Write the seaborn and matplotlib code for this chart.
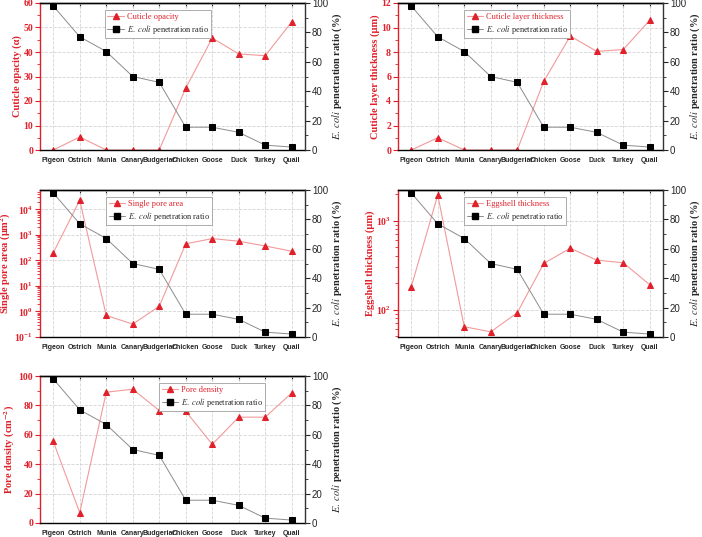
import matplotlib
matplotlib.use('Agg')
import matplotlib.pyplot as plt
import matplotlib.ticker as mticker
from matplotlib.lines import Line2D
import seaborn as sns
import numpy as np

sns.set_style('white')
plt.rcParams['font.family'] = ['Liberation Serif', 'DejaVu Serif']
plt.rcParams['mathtext.fontset'] = 'stix'

# Data
birds = ['Pigeon', 'Ostrich', 'Munia', 'Canary', 'Budgeriar',
         'Chicken', 'Goose', 'Duck', 'Turkey', 'Quail']
penetration = [98, 77, 67, 50, 46, 15.5, 15.5, 12, 3.3, 2]
cuticle_opacity = [0, 5.3, 0, 0, 0, 25.3, 45.7, 39.2, 38.5, 52.3]
cuticle_thickness = [0, 1.0, 0, 0, 0, 5.6, 9.3, 8.05, 8.2, 10.6]
pore_area = [200, 23000, 0.7, 0.32, 1.6, 450, 720, 570, 370, 230]
shell_thickness = [180, 1950, 64, 56, 92, 330, 490, 360, 336, 190]
pore_density = [55.5, 7, 89, 91, 76.5, 76, 53.5, 72, 72, 88.5]

RED = '#e0202a'
RED_LINE = '#f29a9a'
GREY_LINE = '#8c8c8c'

W, H = 702, 537
panels = [
    dict(vals=cuticle_opacity, label='Cuticle opacity (α)', leg='Cuticle opacity',
         eleg=r'$\mathit{E.\ coli}$ penetration ratio', ylim=(0, 60), step=10, log=False,
         box=(40, 3, 305, 150), lx=0.245),
    dict(vals=cuticle_thickness, label='Cuticle layer thickness (μm)', leg='Cuticle layer thickness',
         eleg=r'$\mathit{E.\ coli}$ penetration ratio', ylim=(0, 12), step=2, log=False,
         box=(398, 3, 663, 150), lx=0.25),
    dict(vals=pore_area, label=r'Single pore area (μm$^\mathbf{2}$)', leg='Single pore area',
         eleg=r'$\mathit{E.\ coli}$ penetration ratio', ylim=(0.1, 5.8e4), step=None, log=True,
         box=(40, 190, 305, 337), lx=0.25),
    dict(vals=shell_thickness, label='Eggshell thickness (μm)', leg='Eggshell thickness',
         eleg=r'$\mathit{E.\ coli}$ penetratio ratio', ylim=(49, 2220), step=None, log=True,
         box=(398, 190, 663, 337), lx=0.25),
    dict(vals=pore_density, label=r'Pore density (cm$^{\mathbf{-2}}$)', leg='Pore density',
         eleg=r'$\mathit{E.\ coli}$ penetration ratio', ylim=(0, 100), step=20, log=False,
         box=(40, 376, 305, 523), lx=0.45),
]

fig = plt.figure(figsize=(W / 100, H / 100), dpi=100)

for p in panels:
    l, t, r, b = p['box']
    ax = fig.add_axes([l / W, 1 - b / H, (r - l) / W, (b - t) / H])
    sns.lineplot(x=birds, y=p['vals'], ax=ax, sort=False, color=RED_LINE, lw=0.8,
                 marker='^', markersize=5, markerfacecolor=RED, markeredgecolor=RED)
    if p['log']:
        ax.set_yscale('log')
    ax.set_ylim(*p['ylim'])
    ax.set_xlim(-0.5, 9.5)
    if not p['log']:
        ax.yaxis.set_major_locator(mticker.MultipleLocator(p['step']))
        ax.yaxis.set_minor_locator(mticker.MultipleLocator(p['step'] / 2))
    ax.set_xticks(range(len(birds)))
    ax.set_xticklabels(birds)
    ax.xaxis.set_minor_locator(mticker.FixedLocator(np.arange(-0.5, 10, 1)))
    ax.grid(True, ls='--', color='#d4d4d4', lw=0.6)
    ax.set_axisbelow(True)

    ax.set_ylabel(p['label'], color=RED, fontsize=7.5, fontweight='bold', labelpad=1)
    ax.set_xlabel('')
    ax.tick_params(axis='y', which='major', colors=RED, direction='out', length=3.5, width=0.8,
                   labelsize=7, pad=1.5)
    ax.tick_params(axis='y', which='minor', colors=RED, direction='out', length=2, width=0.6)
    for lab in ax.get_yticklabels():
        lab.set_fontweight('bold')
    ax.tick_params(axis='x', which='major', direction='out', length=3, width=0.8, pad=2,
                   labelsize=5)
    ax.tick_params(axis='x', which='minor', direction='out', length=1.5, width=0.6)
    for lab in ax.get_xticklabels():
        lab.set_fontfamily('Liberation Sans')
        lab.set_fontweight('bold')
    ax.spines['left'].set_color(RED)
    ax.spines['left'].set_linewidth(1.0)
    for s in ['top', 'bottom']:
        ax.spines[s].set_color('black')
        ax.spines[s].set_linewidth(1.0)
    ax.spines['right'].set_visible(False)

    top = ax.secondary_xaxis('top')
    top.set_xticks(range(len(birds)))
    top.tick_params(direction='in', length=3, width=0.8, labeltop=False)
    top.spines['top'].set_linewidth(1.0)

    ax2 = ax.twinx()
    sns.lineplot(x=birds, y=penetration, ax=ax2, sort=False, color=GREY_LINE, lw=0.7,
                 marker='s', markersize=4.5, markerfacecolor='black', markeredgecolor='black')
    ax2.set_ylim(0, 100)
    ax2.yaxis.set_major_locator(mticker.MultipleLocator(20))
    ax2.yaxis.set_minor_locator(mticker.MultipleLocator(10))
    ax2.tick_params(axis='y', which='major', direction='out', length=3.5, width=0.8,
                    labelsize=7, pad=1.5)
    ax2.tick_params(axis='y', which='minor', direction='out', length=2, width=0.6)
    for lab in ax2.get_yticklabels():
        lab.set_fontfamily('Liberation Sans')
    ax2.set_ylabel(r'$\mathbf{\mathit{E.\ coli}}$ penetration ratio (%)', fontsize=7.5,
                   fontweight='bold', labelpad=2)
    ax2.spines['left'].set_visible(False)
    ax2.spines['right'].set_color('#333333')
    ax2.spines['right'].set_linewidth(1.0)
    for s in ['top', 'bottom']:
        ax2.spines[s].set_visible(False)

    handles = [
        Line2D([], [], color=RED_LINE, lw=0.8, marker='^', markersize=4.5,
               markerfacecolor=RED, markeredgecolor=RED),
        Line2D([], [], color=GREY_LINE, lw=0.7, marker='s', markersize=4,
               markerfacecolor='black', markeredgecolor='black'),
    ]
    leg = ax2.legend(handles, [p['leg'], p['eleg']], loc='upper left',
                     bbox_to_anchor=(p['lx'], 0.95), fontsize=6, frameon=True,
                     fancybox=False, edgecolor='#a0a0a0', framealpha=1,
                     handlelength=2.0, handletextpad=0.3, borderpad=0.3,
                     labelspacing=0.2, borderaxespad=0)
    leg.get_frame().set_linewidth(0.6)
    leg.get_texts()[0].set_color(RED)

fig.savefig('out.png', dpi=100)
